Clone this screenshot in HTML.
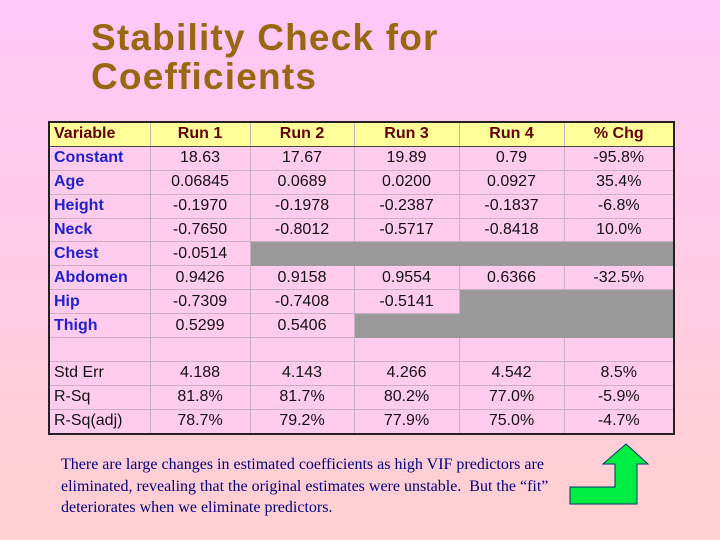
<!DOCTYPE html>
<html><head><meta charset="utf-8"><style>
html,body{margin:0;padding:0}
body{width:720px;height:540px;overflow:hidden;position:relative;background:linear-gradient(#ffc8f8,#ffcce0 60%,#ffd0d0);font-family:"Liberation Sans",sans-serif}
h1{position:absolute;left:91px;top:18px;margin:0;font-size:37px;line-height:39px;font-weight:bold;color:#996611;letter-spacing:1.2px}
table{position:absolute;left:48px;top:121px;width:625px;border-collapse:collapse;border:2px solid #222;table-layout:fixed}
td{height:22.9px;padding:0;border:1px solid #c8b0c0;font-size:16px;text-align:center;color:#111;background:#ffccee;line-height:22px}
tr.hd td{background:#ffff99;color:#660000;font-weight:bold;border-bottom:1px solid #444}
td.v{text-align:left;padding-left:4px;color:#2222cc;font-weight:bold}
tr.hd td.v{color:#660000}
td.g{background:#999;border-color:#999}
td.s{text-align:left;padding-left:4px;color:#111;font-weight:normal}
p{position:absolute;left:61px;top:454px;margin:0;width:488px;font-family:"Liberation Serif",serif;font-size:16px;line-height:21.5px;color:#000080}
</style></head><body>
<h1>Stability Check for<br>Coefficients</h1>
<table>
<colgroup><col style="width:101px"><col style="width:100px"><col style="width:104px"><col style="width:105px"><col style="width:105px"><col style="width:110px"></colgroup>
<tr class="hd"><td class="v">Variable</td><td>Run 1</td><td>Run 2</td><td>Run 3</td><td>Run 4</td><td>% Chg</td></tr>
<tr><td class="v">Constant</td><td>18.63</td><td>17.67</td><td>19.89</td><td>0.79</td><td>-95.8%</td></tr>
<tr><td class="v">Age</td><td>0.06845</td><td>0.0689</td><td>0.0200</td><td>0.0927</td><td>35.4%</td></tr>
<tr><td class="v">Height</td><td>-0.1970</td><td>-0.1978</td><td>-0.2387</td><td>-0.1837</td><td>-6.8%</td></tr>
<tr><td class="v">Neck</td><td>-0.7650</td><td>-0.8012</td><td>-0.5717</td><td>-0.8418</td><td>10.0%</td></tr>
<tr><td class="v">Chest</td><td>-0.0514</td><td class="g"></td><td class="g"></td><td class="g"></td><td class="g"></td></tr>
<tr><td class="v">Abdomen</td><td>0.9426</td><td>0.9158</td><td>0.9554</td><td>0.6366</td><td>-32.5%</td></tr>
<tr><td class="v">Hip</td><td>-0.7309</td><td>-0.7408</td><td>-0.5141</td><td class="g"></td><td class="g"></td></tr>
<tr><td class="v">Thigh</td><td>0.5299</td><td>0.5406</td><td class="g"></td><td class="g"></td><td class="g"></td></tr>
<tr><td></td><td></td><td></td><td></td><td></td><td></td></tr>
<tr><td class="v s">Std Err</td><td>4.188</td><td>4.143</td><td>4.266</td><td>4.542</td><td>8.5%</td></tr>
<tr><td class="v s">R-Sq</td><td>81.8%</td><td>81.7%</td><td>80.2%</td><td>77.0%</td><td>-5.9%</td></tr>
<tr><td class="v s">R-Sq(adj)</td><td>78.7%</td><td>79.2%</td><td>77.9%</td><td>75.0%</td><td>-4.7%</td></tr>
</table>
<p>There are large changes in estimated coefficients as high VIF predictors are eliminated, revealing that the original estimates were unstable.&nbsp; But the “fit” deteriorates when we eliminate predictors.</p>
<svg style="position:absolute;left:0;top:0" width="720" height="540"><polygon points="626,444 648,464 637,464 637,504 570,504 570,487 615,487 615,464 603,464" fill="#00ee44" stroke="#003366" stroke-width="1"/></svg>
</body></html>
